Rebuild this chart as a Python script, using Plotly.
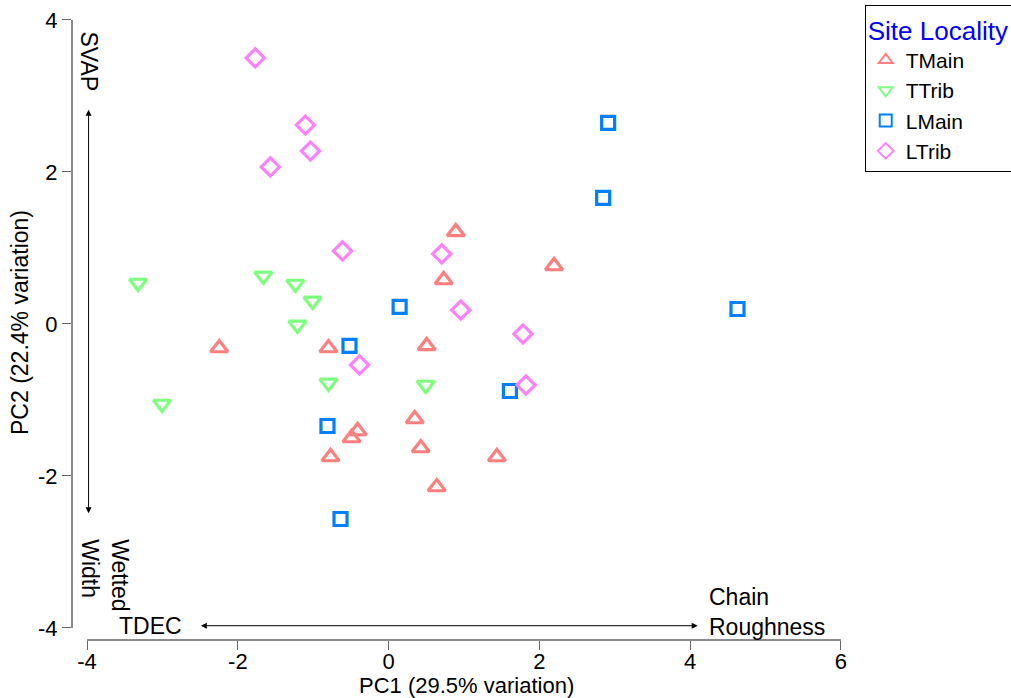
import plotly.graph_objects as go

groups = ["TMain", "TTrib", "LMain", "LTrib"]

tmain_x = [0.891, 2.194, 0.731, -2.247, -0.798, 0.505, 0.346, -0.412, -0.492, 0.426, -0.771, 1.436, 0.638]
tmain_y = [1.211, 0.763, 0.579, -0.316, -0.316, -0.289, -1.25, -1.408, -1.5, -1.632, -1.75, -1.75, -2.145]

ttrib_x = [-3.324, -1.662, -1.237, -1.011, -1.21, -0.798, 0.492, -3.005]
ttrib_y = [0.539, 0.632, 0.526, 0.303, -0.013, -0.776, -0.803, -1.053]

lmain_x = [2.912, 2.846, 4.628, 0.146, -0.519, 1.609, -0.811, -0.638]
lmain_y = [2.645, 1.658, 0.197, 0.224, -0.289, -0.882, -1.342, -2.566]

ltrib_x = [-1.769, -1.104, -1.037, -1.569, -0.612, 0.705, 0.957, 1.782, -0.386, 1.822]
ltrib_y = [3.5, 2.618, 2.276, 2.066, 0.961, 0.921, 0.184, -0.132, -0.539, -0.803]

x_ticks = [-4, -2, 0, 2, 4, 6]
y_ticks = [-4, -2, 0, 2, 4]

colors = ["#FF7F7F", "#7FFF7F", "#0080FF", "#FF80FF"]
symbols = ["triangle-up-open", "triangle-down-open", "square-open", "diamond-open"]
sizes = [15, 15, 13, 14]
xs = [tmain_x, ttrib_x, lmain_x, ltrib_x]
ys = [tmain_y, ttrib_y, lmain_y, ltrib_y]

FONT = "Liberation Sans, Arial, sans-serif"

fig = go.Figure()
for g, x, y, c, s, sz in zip(groups, xs, ys, colors, symbols, sizes):
    fig.add_trace(go.Scatter(
        x=x, y=y, mode="markers", name=g,
        marker=dict(symbol=s, size=sz, color=c, line=dict(width=3.2, color=c)),
    ))

axis_common = dict(
    showgrid=False, zeroline=False, showline=False, automargin=False,
    ticks="outside", ticklen=9, tickwidth=1, tickcolor="#666666",
    tickfont=dict(family=FONT, size=22, color="black"),
)

fig.update_xaxes(
    range=[-4.2, 6.253], tickvals=x_ticks, ticktext=[str(v) for v in x_ticks],
    ticklabelstandoff=-7,
    **axis_common,
)
fig.update_yaxes(
    range=[-4.158, 4.197], tickvals=y_ticks, ticktext=[str(v) for v in y_ticks],
    title=dict(text="PC2 (22.4% variation)", font=dict(family=FONT, size=23, color="black"), standoff=2),
    **axis_common,
)

# x-axis title
fig.add_annotation(x=0.5, y=0, xref="paper", yref="paper", yshift=-45, text="PC1 (29.5% variation)",
                   showarrow=False, xanchor="center", yanchor="middle",
                   font=dict(family=FONT, size=22, color="black"))

# axis lines spanning only the tick range (base-graphics style)
fig.add_shape(type="line", xref="x", yref="paper", x0=-4, x1=6, y0=0, y1=0,
              line=dict(color="#666666", width=1.5))
fig.add_shape(type="line", xref="paper", yref="y", x0=0, x1=0, y0=-4, y1=4,
              line=dict(color="#666666", width=1.5))

# biplot-style direction arrows
fig.add_annotation(x=4.1, y=-3.97, ax=-2.51, ay=-3.97, xref="x", yref="y", axref="x", ayref="y",
                   text="", showarrow=True, arrowhead=2, arrowsize=1.2, arrowwidth=1,
                   arrowside="end+start", arrowcolor="black")
fig.add_annotation(x=-3.98, y=2.82, ax=-3.98, ay=-2.51, xref="x", yref="y", axref="x", ayref="y",
                   text="", showarrow=True, arrowhead=2, arrowsize=1.2, arrowwidth=1,
                   arrowside="end+start", arrowcolor="black")

lab_font = dict(family=FONT, size=23, color="black")
fig.add_annotation(x=-2.72, y=-3.97, xref="x", yref="y", text="TDEC", showarrow=False,
                   xanchor="right", yanchor="middle", font=lab_font)
fig.add_annotation(x=4.22, y=-3.97, xref="x", yref="y", text="Chain<br>Roughness", showarrow=False,
                   xanchor="left", yanchor="bottom", yshift=-16, align="left", font=lab_font)
fig.add_annotation(x=-3.98, y=3.46, xref="x", yref="y", text="SVAP", showarrow=False,
                   textangle=90, xanchor="center", yanchor="middle", font=lab_font)
fig.add_annotation(x=-3.98, y=-3.3, xref="x", yref="y", text="Wetted<br>Width", showarrow=False,
                   textangle=90, xanchor="left", yanchor="middle", xshift=-13, align="left", font=lab_font)

fig.update_layout(
    width=1011, height=698,
    margin=dict(l=72, r=151, t=5, b=58, autoexpand=False),
    paper_bgcolor="white", plot_bgcolor="white",
    font=dict(family=FONT, size=20, color="black"),
    showlegend=True,
    legend=dict(
        x=1.006, y=1.0, xanchor="left", yanchor="top",
        bordercolor="black", borderwidth=1, bgcolor="white",
        title=dict(text="Site Locality", font=dict(family=FONT, size=26, color="#0000FF")),
        font=dict(family=FONT, size=21, color="black"),
        itemsizing="constant", tracegroupgap=0, itemwidth=30,
    ),
)

fig.write_html("out.html")
